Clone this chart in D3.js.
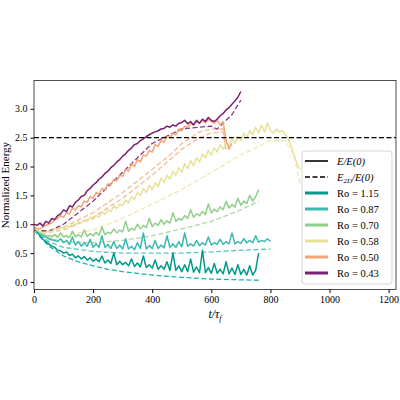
<!DOCTYPE html><html><head><meta charset="utf-8">
<script src="https://cdn.jsdelivr.net/npm/d3@7"></script>
<style>body{margin:0;background:#fff}text{font-family:"Liberation Serif","DejaVu Serif",serif}</style></head><body>
<svg id="c" width="400" height="400"></svg>
<script>
const labels=["Ro = 1.15","Ro = 0.87","Ro = 0.70","Ro = 0.58","Ro = 0.50","Ro = 0.43"];
const colors=["#00998c","#3cb8b2","#8fcf8c","#e8e19a","#f2a675","#7b1f70"];
const dashColors=["#1fb3a8","#5cc8c2","#a6dca2","#efe8b0","#f5bc94","#8e3686"];
const step=10;
const s115=[0.95,0.88,0.80,0.74,0.70,0.66,0.62,0.60,0.55,0.54,0.50,0.52,0.46,0.48,0.42,0.45,0.40,0.44,0.38,0.42,0.36,0.40,0.35,0.45,0.33,0.38,0.32,0.50,0.30,0.36,0.30,0.34,0.28,0.40,0.27,0.33,0.26,0.45,0.25,0.30,0.24,0.38,0.22,0.28,0.22,0.35,0.20,0.50,0.20,0.28,0.18,0.30,0.18,0.40,0.17,0.26,0.16,0.55,0.16,0.25,0.15,0.32,0.15,0.22,0.14,0.35,0.14,0.24,0.13,0.30,0.13,0.22,0.12,0.28,0.12,0.20,0.50];
const s087=[0.95,0.90,0.85,0.80,0.78,0.75,0.73,0.72,0.70,0.75,0.68,0.72,0.65,0.78,0.64,0.70,0.62,0.68,0.62,0.74,0.60,0.66,0.60,0.80,0.60,0.65,0.58,0.70,0.58,0.64,0.57,0.75,0.57,0.62,0.56,0.68,0.58,0.85,0.57,0.63,0.58,0.72,0.58,0.64,0.59,0.80,0.60,0.66,0.60,0.70,0.61,0.85,0.62,0.66,0.62,0.72,0.63,0.68,0.64,0.78,0.64,0.68,0.65,0.74,0.65,0.70,0.66,0.85,0.66,0.70,0.67,0.75,0.68,0.72,0.68,0.80,0.69,0.72,0.70,0.75,0.70];
const s070=[0.95,0.90,0.86,0.83,0.80,0.80,0.78,0.82,0.77,0.85,0.78,0.80,0.77,0.88,0.78,0.82,0.78,0.90,0.79,0.84,0.80,0.86,0.81,0.95,0.82,0.86,0.84,0.92,0.85,0.90,0.87,1.05,0.88,0.93,0.90,1.00,0.92,0.98,0.94,1.10,0.96,1.02,0.98,1.08,1.00,1.06,1.02,1.20,1.05,1.10,1.07,1.15,1.10,1.25,1.12,1.18,1.15,1.22,1.17,1.35,1.20,1.26,1.22,1.30,1.25,1.40,1.28,1.34,1.30,1.45,1.33,1.40,1.36,1.50,1.40,1.48,1.60];
const s058=[0.95,0.90,0.87,0.85,0.86,0.88,0.87,0.92,0.90,0.95,0.92,0.97,0.95,1.02,0.98,1.05,1.02,1.08,1.05,1.12,1.08,1.15,1.12,1.22,1.17,1.25,1.22,1.32,1.27,1.35,1.32,1.42,1.37,1.48,1.43,1.55,1.50,1.62,1.55,1.68,1.60,1.72,1.65,1.80,1.72,1.85,1.78,1.92,1.85,1.98,1.90,2.05,1.96,2.10,2.02,2.15,2.08,2.22,2.15,2.28,2.20,2.32,2.25,2.38,2.30,2.42,2.36,2.48,2.40,2.52,2.45,2.58,2.50,2.62,2.55,2.68,2.58,2.72,2.60,2.75,2.62,2.58,2.65,2.60,2.62,2.56,2.50,2.35,2.20,2.05,1.95];
const s050=[0.95,0.93,0.92,0.95,0.98,1.00,1.02,1.08,1.10,1.15,1.12,1.20,1.18,1.28,1.25,1.32,1.30,1.40,1.38,1.48,1.45,1.55,1.52,1.62,1.60,1.70,1.68,1.78,1.75,1.85,1.83,1.95,1.92,2.05,2.00,2.12,2.08,2.20,2.18,2.28,2.25,2.38,2.35,2.45,2.42,2.52,2.50,2.58,2.55,2.65,2.62,2.70,2.68,2.75,2.72,2.78,2.75,2.80,2.76,2.82,2.78,2.75,2.80,2.72,2.78,2.45,2.30,2.40];
const s043=[1.00,0.98,1.02,0.97,1.05,1.02,1.10,1.08,1.15,1.18,1.25,1.22,1.32,1.30,1.38,1.42,1.48,1.50,1.58,1.62,1.68,1.72,1.78,1.82,1.88,1.92,1.98,2.02,2.08,2.12,2.18,2.22,2.28,2.32,2.38,2.40,2.45,2.48,2.52,2.55,2.58,2.60,2.62,2.65,2.66,2.70,2.68,2.72,2.70,2.75,2.76,2.80,2.74,2.78,2.72,2.80,2.75,2.82,2.78,2.85,2.80,2.78,2.82,2.88,2.92,2.98,3.02,3.08,3.14,3.20,3.30];
const solids=[s115,s087,s070,s058,s050,s043];
// dashed E_2D/E(0): [t, value]
const d115=[[0,0.9],[50,0.62],[100,0.45],[150,0.35],[200,0.28],[250,0.22],[300,0.18],[400,0.12],[500,0.08],[600,0.05],[760,0.03]];
const d087=[[0,0.9],[50,0.7],[100,0.6],[200,0.53],[300,0.5],[400,0.5],[500,0.5],[600,0.52],[700,0.55],[800,0.57]];
const d070=[[0,0.9],[50,0.76],[100,0.7],[200,0.68],[300,0.72],[400,0.8],[500,0.92],[600,1.05],[700,1.25],[760,1.4]];
const d058=[[0,0.9],[50,0.82],[100,0.8],[200,0.9],[300,1.1],[400,1.35],[500,1.6],[600,1.9],[700,2.2],[800,2.45],[850,2.45],[880,2.2],[900,1.7]];
const d050a=[[0,0.9],[50,0.88],[100,0.95],[200,1.2],[300,1.55],[400,1.95],[460,2.2],[500,2.4],[560,2.6],[600,2.65],[640,2.65],[650,2.3]];
const d050b=[[0,0.9],[50,0.86],[100,0.9],[200,1.12],[300,1.45],[400,1.85],[460,2.12],[500,2.3],[560,2.5],[600,2.58],[640,2.6],[650,2.25]];
const d043=[[0,0.9],[50,0.88],[100,1.0],[200,1.4],[300,1.9],[400,2.4],[500,2.65],[600,2.7],[620,2.65],[670,2.9],[700,3.15]];
const dashed=[[d115,0],[d087,1],[d070,2],[d058,3],[d050a,4],[d050b,4],[d043,5]];
const xTicks=[0,200,400,600,800,1000,1200];
const yTicks=[0,0.5,1,1.5,2,2.5,3];
const refLine=2.5;

const svg=d3.select("#c");
const L=34,R=396,T=80.5,B=289.5;
const x=d3.scaleLinear().domain([0,1225]).range([L,R]);
const y=d3.scaleLinear().domain([-0.13,3.49]).range([B,T]);
const g=svg.append("g");
g.append("defs").append("clipPath").attr("id","cp").append("rect").attr("x",L).attr("y",T).attr("width",R-L).attr("height",B-T);
const pg=g.append("g").attr("clip-path","url(#cp)");
const line=d3.line().x(d=>x(d[0])).y(d=>y(d[1]));
dashed.forEach(([d,i])=>pg.append("path").attr("d",line(d)).attr("fill","none").attr("stroke",dashColors[i]).attr("stroke-width",1.3).attr("stroke-dasharray","5,2.5"));
solids.forEach((s,i)=>pg.append("path").attr("d",line(s.map((v,k)=>[k*step,v]))).attr("fill","none").attr("stroke",colors[i]).attr("stroke-width",1.5).attr("stroke-linejoin","round"));
pg.append("line").attr("x1",L).attr("x2",R).attr("y1",y(refLine)).attr("y2",y(refLine)).attr("stroke","#000").attr("stroke-width",1.3).attr("stroke-dasharray","5,2.5");
g.append("g").attr("transform",`translate(0,${B})`).call(d3.axisBottom(x).tickValues(xTicks).tickFormat(d3.format("d")).tickSize(3.5)).call(a=>{a.select(".domain").remove();a.selectAll("text").attr("font-size",10).attr("font-family","Liberation Serif")});
g.append("g").attr("transform",`translate(${L},0)`).call(d3.axisLeft(y).tickValues(yTicks).tickFormat(d3.format(".1f")).tickSize(3.5)).call(a=>{a.select(".domain").remove();a.selectAll("text").attr("font-size",10).attr("font-family","Liberation Serif")});
g.append("rect").attr("x",L).attr("y",T).attr("width",R-L).attr("height",B-T).attr("fill","none").attr("stroke","#222").attr("stroke-width",0.8);
svg.append("text").attr("transform","translate(9,185) rotate(-90)").attr("text-anchor","middle").attr("font-size",11).text("Normalized Energy");
const xl=svg.append("text").attr("x",215).attr("y",318).attr("text-anchor","middle").attr("font-size",12).attr("font-style","italic");
xl.append("tspan").text("t/τ");xl.append("tspan").attr("font-size",8).attr("dy",3).text("f");
// legend
const lg=svg.append("g");
lg.append("rect").attr("x",302).attr("y",151).attr("width",90).attr("height",133).attr("rx",3).attr("fill","#fff").attr("fill-opacity",0.85).attr("stroke","#ccc").attr("stroke-width",0.8);
const rows=[{k:"s",t:"E/E(0)"},{k:"d",t:"E_2D/E(0)"}].concat(labels.map((l,i)=>({k:"c",i,t:l})));
rows.forEach((r,j)=>{const yy=161+j*16;
 const ln=lg.append("line").attr("x1",305).attr("x2",328).attr("y1",yy).attr("y2",yy).attr("stroke",r.k==="c"?colors[r.i]:"#000").attr("stroke-width",r.k==="c"?3:1.6);
 if(r.k==="d")ln.attr("stroke-dasharray","5,2.5");
 const t=lg.append("text").attr("x",337).attr("y",yy+3.5).attr("font-size",10.5);
 if(r.k==="s"){t.attr("font-style","italic").text("E/E(0)");}
 else if(r.k==="d"){t.attr("font-style","italic");t.append("tspan").text("E");t.append("tspan").attr("font-size",7).attr("dy",2.5).text("2D");t.append("tspan").attr("dy",-2.5).text("/E(0)");}
 else t.text(r.t);
});
</script></body></html>
